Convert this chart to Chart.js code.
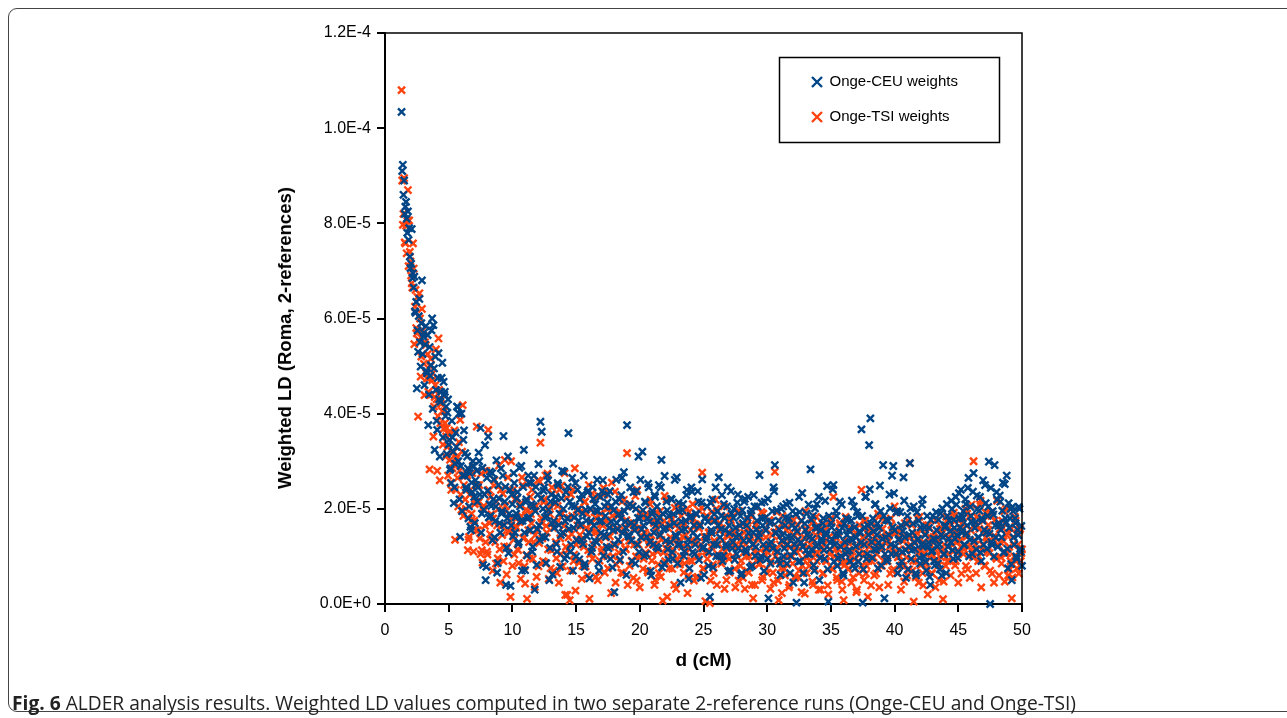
<!DOCTYPE html>
<html>
<head>
<meta charset="utf-8">
<title>ALDER weighted LD</title>
<script src="https://cdn.jsdelivr.net/npm/chart.js@4.4.1/dist/chart.umd.min.js"></script>
<style>
  html, body { margin: 0; padding: 0; background: #fff; }
  body { width: 1287px; height: 718px; position: relative; overflow: hidden; }
  #frame { position: absolute; left: 8px; top: 8px; width: 1300px; height: 704px;
           border: 1px solid #444; border-radius: 9px; box-sizing: border-box; }
  #wrap { position: absolute; left: 0; top: 0; width: 1287px; height: 690px; }
  #ytitle { position: absolute; left: 285px; top: 338px; transform: translate(-50%, -50%) rotate(-90deg);
            white-space: nowrap; font: bold 18.5px "Liberation Sans", Arial, sans-serif; color: #000; }
  #caption { position: absolute; left: 12px; top: 690px; white-space: nowrap;
             font: 19.2px/26px "Open Sans", sans-serif; color: #222; }
  #caption b { font-weight: bold; }
</style>
</head>
<body>
<div id="frame"></div>
<div id="wrap"><canvas id="ldChart" width="1287" height="690"></canvas></div>
<div id="ytitle">Weighted LD (Roma, 2-references)</div>
<div id="caption"><b>Fig. 6</b> ALDER analysis results. Weighted LD values computed in two separate 2-reference runs (Onge-CEU and Onge-TSI)</div>
<script>
// weighted LD in units of 1e-6, bins of 0.05 cM
// *Weights: bins 1.30, 1.40 ... 50.00   *WeightsMid: bins 1.35, 1.45 ... 49.95
const binStep = 0.1;

const ceuWeights = [
  103.4, 92.3, 89.0, 83.5, 81.0, 82.5, 79.0, 70.6, 78.8, 69.5,
  68.8, 61.2, 45.3, 53.0, 64.1, 49.9, 68.0, 56.2, 46.0, 58.4,
  48.5, 37.6, 54.0, 50.2, 60.0, 58.6, 32.4, 45.0, 36.6, 52.7,
  31.0, 44.6, 50.7, 46.7, 44.6, 41.5, 40.2, 33.5, 28.2, 25.4,
  35.0, 21.2, 29.5, 33.0, 41.4, 40.0, 14.1, 40.0, 27.0, 36.5,
  31.7, 24.0, 28.5, 20.5, 16.2, 25.5, 30.0, 22.5, 26.0, 28.0,
  24.5, 30.0, 37.0, 19.0, 8.2, 23.0, 5.0, 26.5, 35.2, 21.0,
  18.5, 27.5, 22.0, 14.0, 20.5, 6.6, 25.0, 17.0, 28.5, 19.5,
  35.3, 21.5, 4.0, 18.0, 10.7, 24.0, 16.5, 21.0, 27.5, 15.0,
  19.0, 23.5, 13.0, 20.5, 29.0, 17.5, 32.4, 7.1, 22.0, 18.0,
  25.5, 15.5, 21.0, 12.0, 27.0, 19.5, 8.2, 23.0, 16.5, 38.3,
  36.2, 20.0, 24.5, 14.0, 18.5, 26.0, 5.0, 21.5, 17.0, 29.5,
  16.0, 22.5, 11.0, 25.0, 19.0, 14.5, 28.0, 20.0, 9.5, 23.5,
  18.0, 35.9, 21.5, 12.5, 26.5, 16.0, 20.5, 10.0, 24.0, 17.5,
  22.0, 13.5, 19.0, 27.0, 8.5, 17.5, 23.5, 15.0, 20.0, 11.0,
  24.5, 16.5, 21.0, 13.0, 19.5, 7.0, 22.5, 17.5, 26.0, 14.5,
  18.5, 12.0, 23.0, 16.0, 9.5, 20.5, 15.5, 2.5, 21.5, 17.0,
  13.5, 22.0, 18.0, 26.5, 11.0, 19.5, 16.0, 37.6, 14.5, 21.0,
  17.0, 9.0, 23.5, 15.5, 20.0, 12.5, 31.0, 18.0, 14.0, 32.0,
  16.5, 21.5, 10.5, 18.0, 24.5, 13.0, 6.0, 19.5, 15.0, 22.5,
  12.0, 17.5, 25.0, 14.5, 30.3, 19.0, 8.5, 16.0, 21.5, 11.5,
  18.5, 13.0, 22.0, 9.5, 17.0, 14.5, 26.6, 12.5, 19.5, 4.5,
  15.5, 21.0, 11.0, 17.5, 24.0, 13.5, 7.5, 18.5, 23.6, 15.0,
  10.5, 19.0, 14.0, 21.5, 16.5, 5.5, 26.2, 12.0, 18.0, 13.5,
  20.5, 8.0, 1.5, 15.5, 22.0, 12.5, 17.5, 10.0, 19.5, 26.6,
  14.0, 18.5, 9.0, 21.0, 15.5, 12.0, 24.5, 16.5, 7.0, 19.0,
  13.0, 20.0, 16.0, 10.5, 23.0, 14.5, 18.5, 6.5, 17.0, 21.5,
  11.5, 16.5, 22.5, 13.5, 19.0, 8.0, 15.0, 20.5, 12.0, 17.5,
  14.0, 27.1, 10.0, 18.0, 12.5, 21.5, 15.5, 9.5, 1.2, 17.0,
  13.0, 19.5, 24.5, 29.2, 15.0, 11.0, 17.5, 8.5, 20.0, 14.5,
  10.0, 16.5, 21.0, 12.5, 18.0, 6.5, 14.0, 19.5, 11.0, 16.0,
  0.3, 13.5, 22.5, 9.0, 17.5, 12.0, 4.5, 15.5, 19.0, 10.5,
  14.0, 28.3, 11.5, 18.5, 7.0, 16.0, 21.0, 12.5, 5.0, 15.5,
  13.0, 18.0, 9.5, 15.0, 24.8, 0.5, 11.5, 17.0, 13.5, 25.0,
  12.5, 19.5, 8.0, 14.5, 21.5, 10.0, 16.0, 6.0, 13.0, 18.0,
  11.0, 15.5, 9.0, 17.5, 13.5, 20.5, 7.5, 14.0, 18.5, 10.5,
  15.0, 36.7, 0.3, 12.5, 22.5, 9.5, 16.5, 33.4, 39.0, 13.0,
  18.0, 11.5, 21.0, 14.5, 7.5, 16.0, 19.5, 12.0, 29.2, 1.2,
  14.0, 9.0, 17.5, 23.0, 12.5, 27.0, 29.0, 15.5, 10.5, 19.5,
  13.5, 8.0, 16.5, 11.0, 26.6, 14.0, 5.5, 18.5, 12.0, 29.6,
  9.5, 15.0, 20.5, 11.5, 6.0, 13.5, 17.5, 8.5, 12.5, 22.0,
  10.0, 14.5, 7.0, 12.0, 16.0, 4.0, 11.0, 18.5, 9.0, 13.5,
  15.5, 8.5, 12.5, 19.0, 6.0, 14.0, 10.5, 16.5, 21.0, 12.0,
  17.5, 13.0, 20.0, 9.5, 16.0, 22.5, 14.5, 11.0, 18.0, 24.0,
  15.0, 19.5, 12.5, 21.0, 16.5, 26.5, 13.5, 18.5, 10.5, 27.5,
  16.0, 11.5, 20.0, 14.0, 22.5, 9.0, 17.5, 12.5, 25.0, 15.0,
  18.5, 29.9, 0.0, 13.0, 19.5, 10.0, 16.5, 23.5, 12.0, 17.0,
  21.5, 14.0, 25.5, 11.0, 18.0, 27.0, 7.5, 16.0, 20.0, 5.0,
  19.5, 12.5, 17.0, 9.5, 14.5, 20.0, 11.0, 8.0
];

const ceuWeightsMid = [
  91.0, 86.0, 82.0, 84.5, 78.0, 76.5, 73.0, 71.5, 68.5, 66.5,
  61.5, 63.5, 57.5, 60.5, 55.0, 59.0, 52.5, 57.0, 54.5, 49.0,
  56.5, 44.0, 48.0, 57.5, 41.0, 49.5, 52.0, 38.5, 47.5, 43.0,
  42.5, 47.5, 35.0, 44.0, 39.5, 31.5, 43.0, 34.5, 28.5, 38.5,
  32.0, 24.5, 36.0, 41.5, 30.0, 22.0, 29.0, 19.5, 34.5, 27.0,
  24.5, 31.0, 18.0, 27.5, 15.5, 23.5, 29.0, 17.0, 25.0, 21.5,
  31.8, 23.0, 15.0, 28.6, 19.8, 33.4, 7.8, 23.8, 18.2, 27.8,
  20.6, 13.4, 26.2, 17.4, 30.2, 8.6, 22.2, 15.0, 19.0, 27.0,
  16.6, 24.6, 11.8, 31.0, 19.0, 3.8, 23.0, 14.2, 25.4, 18.2,
  22.2, 12.6, 28.6, 17.4, 7.0, 24.6, 15.0, 21.4, 10.2, 27.0,
  18.2, 25.4, 11.0, 20.6, 3.0, 24.6, 15.8, 29.4, 13.4, 22.2,
  14.2, 23.8, 18.2, 8.6, 27.0, 19.8, 11.8, 23.0, 6.2, 17.4,
  21.4, 12.6, 25.4, 16.6, 7.8, 22.2, 15.0, 27.8, 17.4, 10.2,
  24.6, 15.8, 11.0, 20.6, 7.0, 18.2, 25.4, 13.4, 19.8, 9.4,
  16.6, 23.0, 12.6, 7.8, 19.8, 14.2, 23.8, 5.4, 17.4, 11.8,
  22.1, 13.3, 19.7, 26.1, 8.5, 17.3, 14.9, 23.7, 10.1, 20.5,
  14.1, 21.3, 11.7, 23.7, 17.3, 7.7, 19.7, 12.5, 26.1, 15.7,
  18.9, 9.3, 22.9, 14.9, 27.7, 17.3, 6.1, 20.5, 14.1, 24.5,
  13.3, 20.5, 16.5, 8.5, 23.7, 18.1, 10.9, 26.1, 15.7, 19.7,
  10.1, 21.3, 14.1, 25.3, 17.3, 6.9, 18.9, 12.5, 22.9, 16.5,
  20.5, 11.7, 18.1, 24.5, 7.7, 15.7, 26.9, 13.3, 19.7, 9.3,
  16.5, 22.1, 10.9, 18.9, 26.1, 14.1, 8.5, 21.3, 12.5, 17.3,
  19.7, 10.1, 15.7, 22.9, 12.5, 5.3, 18.1, 24.5, 10.9, 16.5,
  12.5, 18.9, 23.7, 9.3, 16.5, 21.3, 11.7, 6.1, 18.1, 14.1,
  17.3, 10.9, 21.3, 14.9, 7.7, 18.9, 24.5, 12.5, 16.5, 10.1,
  15.7, 22.9, 10.1, 18.1, 12.5, 20.5, 6.9, 14.9, 23.7, 11.7,
  18.1, 9.3, 14.1, 21.3, 11.7, 16.5, 6.1, 19.7, 13.3, 22.1,
  10.9, 18.1, 14.9, 7.7, 19.7, 12.5, 22.9, 10.1, 15.7, 20.5,
  14.9, 9.3, 21.3, 16.5, 6.9, 18.1, 11.7, 22.1, 12.5, 8.5,
  17.3, 11.7, 23.7, 14.9, 19.7, 9.3, 15.7, 6.1, 13.3, 20.5,
  11.7, 18.1, 8.5, 14.1, 21.3, 10.1, 16.5, 4.5, 12.5, 18.9,
  15.3, 8.9, 19.3, 12.9, 23.3, 6.5, 16.9, 11.3, 14.5, 20.9,
  10.5, 17.7, 13.7, 8.1, 20.1, 12.1, 16.1, 22.5, 9.7, 13.7,
  16.9, 11.3, 21.7, 14.5, 7.3, 18.5, 12.9, 16.1, 24.1, 8.9,
  14.5, 18.5, 9.7, 15.3, 12.1, 20.9, 6.5, 16.9, 10.5, 14.5,
  17.7, 11.3, 13.7, 21.7, 8.1, 16.1, 12.1, 19.3, 8.9, 15.3,
  12.9, 18.5, 7.3, 16.1, 22.5, 10.5, 14.5, 24.1, 16.9, 9.7,
  15.3, 20.9, 11.3, 16.9, 12.9, 24.9, 8.1, 13.7, 18.5, 10.5,
  17.7, 9.7, 14.5, 20.1, 10.5, 16.1, 23.3, 12.1, 19.3, 6.5,
  13.7, 19.3, 8.9, 15.3, 21.7, 11.3, 16.9, 7.3, 14.5, 20.1,
  11.3, 16.9, 12.9, 6.5, 19.3, 13.7, 9.7, 16.1, 20.9, 12.1,
  16.1, 8.9, 18.5, 12.9, 5.7, 17.7, 11.3, 13.7, 8.1, 19.3,
  12.1, 17.7, 7.3, 14.5, 20.1, 10.5, 16.1, 6.5, 18.5, 13.7,
  15.3, 21.7, 11.3, 17.7, 13.7, 20.9, 9.7, 23.3, 16.1, 18.5,
  18.0, 12.4, 22.0, 14.8, 24.4, 10.0, 20.4, 17.2, 23.6, 13.2,
  17.2, 22.8, 14.0, 19.6, 10.8, 18.0, 26.0, 15.6, 21.2, 11.6,
  20.4, 14.8, 24.4, 12.4, 18.8, 29.2, 14.0, 22.0, 16.4, 22.8,
  15.6, 19.6, 10.8, 25.2, 17.2, 11.6, 21.2, 18.0, 8.4, 20.4,
  14.0, 18.0, 10.0, 15.6, 20.4, 11.6, 16.4
];

const tsiWeights = [
  108.0, 79.7, 89.5, 75.8, 73.7, 87.0, 80.6, 72.0, 67.4, 75.8,
  54.6, 66.0, 56.9, 39.4, 65.3, 47.8, 62.0, 56.5, 43.9, 54.4,
  47.4, 44.6, 28.3, 51.5, 47.0, 35.2, 43.5, 53.5, 28.0, 55.8,
  26.0, 42.0, 40.5, 36.8, 38.0, 35.2, 33.0, 36.0, 30.3, 24.0,
  28.5, 32.0, 13.5, 30.6, 26.5, 34.0, 38.7, 19.8, 41.8, 25.0,
  22.0, 27.5, 11.3, 14.1, 24.0, 19.0, 29.0, 17.5, 21.5, 37.3,
  15.5, 25.0, 10.5, 11.3, 20.0, 28.0, 13.0, 11.0, 36.6, 17.0,
  22.5, 13.5, 18.0, 26.0, 8.5, 16.5, 20.0, 11.5, 24.0, 14.5,
  9.0, 30.3, 19.5, 12.0, 15.0, 17.5, 30.0, 8.0, 13.5, 22.0,
  16.0, 11.5, 8.6, 21.0, 18.5, 25.0, 14.0, 4.3, 10.3, 19.5,
  13.0, 22.5, 17.0, 9.5, 20.0, 14.5, 5.7, 26.0, 12.8, 33.9,
  18.0, 9.0, 22.0, 27.0, 15.0, 11.5, 20.5, 7.5, 24.5, 16.0,
  21.0, 13.0, 6.5, 17.5, 24.0, 10.5, 19.0, 15.0, 27.5, 12.0,
  1.9, 14.0, 0.8, 23.0, 18.5, 9.0, 28.5, 12.5, 16.5, 20.0,
  14.5, 19.5, 8.0, 12.0, 21.5, 16.0, 6.0, 25.0, 10.5, 17.0,
  9.5, 22.0, 15.0, 18.0, 5.0, 13.5, 19.0, 11.0, 16.5, 23.0,
  14.0, 20.0, 7.5, 17.0, 12.0, 25.5, 10.0, 15.5, 4.5, 19.0,
  18.5, 9.0, 13.0, 21.5, 6.5, 15.5, 11.5, 31.7, 17.0, 8.0,
  13.5, 20.5, 5.5, 16.0, 10.0, 24.0, 12.5, 3.5, 18.5, 14.0,
  9.5, 15.0, 19.0, 7.0, 12.5, 21.0, 14.5, 10.5, 17.0, 5.0,
  16.0, 11.0, 6.5, 19.5, 13.5, 0.7, 17.5, 9.0, 22.0, 12.5,
  7.5, 14.0, 18.0, 11.5, 4.0, 16.5, 9.5, 20.5, 13.0, 10.0,
  12.0, 17.0, 8.5, 14.5, 20.0, 6.0, 11.5, 15.5, 9.0, 18.0,
  13.0, 5.5, 16.5, 10.0, 19.5, 12.5, 27.6, 7.5, 14.0, 11.0,
  9.5, 15.0, 0.2, 12.0, 17.5, 6.5, 13.0, 20.0, 10.5, 15.5,
  17.0, 8.5, 13.5, 20.5, 11.0, 5.0, 15.0, 9.5, 18.0, 12.5,
  10.0, 14.5, 3.5, 16.0, 12.0, 19.5, 8.0, 13.5, 5.5, 15.0,
  12.5, 7.0, 17.5, 10.0, 14.0, 4.0, 1.2, 11.0, 16.5, 9.0,
  13.5, 8.5, 15.0, 5.0, 19.0, 10.5, 14.0, 6.5, 12.0, 17.5,
  9.0, 14.5, 4.5, 27.8, 11.5, 16.0, 0.8, 12.5, 7.5, 18.5,
  13.0, 6.0, 15.5, 10.0, 3.5, 12.0, 17.0, 8.5, 14.5, 5.5,
  11.0, 16.5, 7.0, 13.0, 2.5, 9.5, 14.0, 19.5, 6.5, 12.0,
  8.0, 12.5, 17.0, 4.0, 10.5, 14.5, 9.0, 16.5, 11.5, 3.0,
  12.0, 6.5, 15.5, 9.0, 13.5, 2.0, 10.5, 18.0, 7.5, 22.5,
  10.0, 14.0, 5.0, 11.5, 17.0, 8.5, 3.0, 0.8, 12.5, 9.0,
  13.0, 7.5, 16.0, 4.5, 11.0, 14.5, 9.5, 2.5, 12.0, 6.5,
  10.5, 24.0, 14.0, 5.0, 17.5, 8.0, 1.5, 12.0, 15.5, 9.0,
  13.5, 6.0, 16.5, 10.5, 19.0, 3.5, 12.0, 8.0, 14.0, 17.5,
  9.5, 14.5, 4.0, 12.0, 18.0, 7.0, 15.0, 20.5, 11.0, 6.5,
  15.0, 10.0, 3.0, 13.5, 8.0, 17.0, 11.5, 6.0, 14.0, 29.6,
  12.0, 7.0, 0.5, 14.5, 9.0, 18.0, 4.5, 11.0, 15.5, 6.5,
  13.0, 8.5, 16.5, 2.0, 11.5, 14.0, 6.5, 10.0, 15.0, 3.5,
  9.5, 13.5, 5.0, 11.0, 16.0, 1.0, 12.5, 8.0, 17.5, 10.5,
  14.0, 6.0, 15.5, 11.0, 18.5, 9.0, 13.0, 4.5, 16.0, 12.0,
  17.0, 10.5, 14.5, 8.0, 19.0, 12.0, 5.5, 15.5, 11.0, 30.0,
  13.5, 6.5, 16.5, 10.0, 21.0, 3.5, 12.5, 17.5, 8.0, 14.0,
  11.0, 15.5, 7.0, 18.5, 12.5, 4.5, 14.0, 9.5, 17.0, 6.0,
  13.0, 8.5, 16.0, 19.5, 10.5, 14.5, 6.0, 12.0, 9.0, 1.2,
  14.0, 10.0, 17.5, 7.5, 12.5, 15.5, 9.0, 11.5
];

const tsiWeightsMid = [
  89.0, 82.0, 76.0, 79.5, 80.5, 71.0, 74.0, 69.0, 66.5, 70.5,
  62.5, 58.0, 64.5, 55.5, 60.0, 52.0, 57.5, 50.5, 55.0, 48.5,
  52.5, 47.5, 50.0, 44.0, 48.5, 41.5, 46.0, 43.0, 39.5, 45.0,
  38.0, 43.0, 33.5, 40.5, 31.0, 37.0, 27.0, 35.5, 25.5, 32.0,
  29.5, 36.5, 24.0, 31.0, 20.5, 28.0, 23.0, 32.0, 18.5, 27.0,
  20.0, 27.0, 13.5, 23.0, 17.5, 27.5, 11.0, 21.0, 15.5, 25.0,
  21.4, 13.8, 27.4, 8.7, 20.6, 16.4, 28.0, 10.4, 24.0, 14.7,
  18.9, 7.0, 24.9, 13.0, 21.5, 9.6, 29.1, 4.5, 16.4, 23.2,
  12.1, 20.6, 6.2, 26.6, 15.5, 1.5, 18.1, 24.0, 10.4, 16.4,
  22.3, 11.3, 17.2, 5.3, 26.6, 13.8, 7.9, 19.8, 1.1, 15.5,
  9.6, 18.9, 24.0, 13.0, 3.6, 20.6, 15.5, 7.9, 25.7, 17.2,
  13.8, 21.4, 8.7, 16.4, 27.4, 5.3, 18.9, 11.3, 23.2, 7.0,
  17.2, 9.6, 20.6, 4.5, 13.8, 24.9, 7.9, 16.4, 1.9, 22.3,
  11.3, 18.1, 7.0, 14.7, 24.0, 10.4, 2.8, 19.8, 13.0, 8.7,
  16.4, 5.3, 13.8, 21.4, 7.9, 18.9, 11.3, 1.1, 15.5, 23.2,
  12.5, 19.3, 5.7, 15.1, 22.7, 9.1, 16.8, 11.7, 24.4, 6.6,
  17.6, 10.0, 20.2, 14.2, 2.3, 18.5, 12.5, 23.6, 8.3, 15.9,
  10.8, 19.3, 6.6, 15.1, 21.9, 11.7, 17.6, 4.0, 13.3, 21.0,
  9.1, 16.8, 12.5, 22.7, 4.9, 15.9, 10.0, 19.3, 14.2, 7.4,
  15.1, 10.8, 18.5, 6.6, 13.3, 21.9, 9.1, 17.6, 4.0, 12.5,
  19.3, 8.3, 14.2, 5.7, 16.8, 10.8, 22.7, 11.7, 1.5, 15.9,
  10.0, 17.6, 7.4, 13.3, 20.2, 3.2, 12.5, 15.9, 8.3, 18.5,
  14.2, 6.6, 16.8, 10.8, 2.3, 19.3, 9.1, 13.3, 21.0, 4.9,
  16.8, 10.0, 5.7, 15.9, 11.7, 20.2, 7.4, 14.2, 0.6, 18.5,
  10.8, 15.1, 4.9, 19.3, 8.3, 13.3, 21.9, 4.0, 12.5, 16.8,
  9.1, 15.9, 11.7, 3.2, 18.5, 10.0, 14.2, 6.6, 17.6, 12.5,
  15.1, 7.4, 12.5, 19.3, 4.9, 13.3, 9.1, 16.8, 10.8, 3.2,
  10.0, 15.9, 6.6, 13.3, 18.5, 8.3, 12.5, 4.0, 16.8, 10.8,
  8.3, 14.2, 19.3, 5.7, 11.7, 15.9, 7.4, 10.8, 17.6, 3.2,
  12.5, 6.6, 15.1, 10.0, 19.3, 4.9, 14.2, 9.1, 2.3, 16.8,
  7.4, 12.5, 8.3, 15.9, 4.0, 13.3, 10.0, 17.6, 5.7, 11.7,
  14.9, 5.6, 11.5, 17.5, 8.1, 12.4, 2.2, 15.8, 9.8, 14.1,
  9.0, 15.8, 4.7, 13.2, 7.3, 18.3, 10.7, 3.0, 14.9, 9.8,
  6.4, 12.4, 16.6, 9.0, 3.9, 14.1, 11.5, 17.5, 7.3, 13.2,
  11.5, 5.6, 14.9, 9.8, 16.6, 4.7, 12.4, 8.1, 18.3, 10.7,
  7.3, 13.2, 9.8, 15.8, 5.6, 11.5, 14.1, 3.0, 9.0, 16.6,
  12.4, 8.1, 17.5, 10.7, 6.4, 14.9, 9.0, 13.2, 3.9, 15.8,
  9.8, 14.1, 6.4, 12.4, 18.3, 8.1, 11.5, 15.8, 9.0, 13.2,
  14.1, 9.0, 13.2, 6.4, 16.6, 10.7, 7.3, 14.9, 19.2, 9.8,
  11.5, 15.8, 8.1, 13.2, 4.7, 14.1, 9.8, 17.5, 7.3, 12.4,
  16.6, 9.0, 13.2, 5.6, 14.9, 10.7, 18.3, 8.1, 12.4, 3.9,
  10.7, 14.9, 7.3, 16.6, 9.8, 12.4, 6.4, 14.1, 11.5, 17.5,
  13.2, 8.1, 15.8, 9.8, 14.9, 4.7, 11.5, 18.3, 9.0, 14.1,
  9.0, 16.6, 12.4, 19.2, 8.1, 14.9, 10.7, 17.5, 13.2, 6.4,
  15.8, 11.5, 20.0, 14.1, 7.3, 18.3, 12.4, 20.9, 9.8, 16.6,
  12.4, 18.3, 9.0, 15.8, 21.7, 11.5, 14.9, 8.1, 19.2, 13.2,
  16.6, 10.7, 19.2, 6.4, 14.1, 17.5, 9.8, 21.7, 12.4, 15.8,
  9.8, 17.5, 13.2, 4.7, 20.0, 10.7, 14.9, 7.3, 15.8, 5.6,
  12.4, 18.3, 9.0, 14.9, 6.4, 15.8, 10.7
];

const seriesNames = ["Onge-CEU weights", "Onge-TSI weights"];
const seriesColors = ["#004586", "#ff420e"];
const xTicks = [0, 5, 10, 15, 20, 25, 30, 35, 40, 45, 50];
const yTicks = [0, 2e-5, 4e-5, 6e-5, 8e-5, 1e-4, 1.2e-4];

function toPoints(vals, start){
  return vals.map((v, i) => ({
    x: +(start + binStep * i).toFixed(2),
    y: v * 1e-6
  }));
}

function expLabel(v){
  return Number(v).toExponential(1).toUpperCase();
}

// box around the plot and around the legend
const framePlugin = {
  id: "frames",
  afterLayout(chart){
    const lg = chart.legend;
    if(!lg) return;
    lg.left = 792; lg.right = 1000; lg.width = 208;
    lg.top = 54.5; lg.bottom = 200; lg.height = 145.5;
  },
  afterDraw(chart){
    const {ctx, chartArea: a} = chart;
    ctx.save();
    ctx.strokeStyle = "#000";
    ctx.lineWidth = 1.5;
    ctx.beginPath();
    ctx.moveTo(a.left, a.top);
    ctx.lineTo(a.right, a.top);
    ctx.lineTo(a.right, a.bottom);
    ctx.stroke();
    ctx.strokeRect(779.5, 57.5, 220, 85);
    ctx.restore();
  }
};

const seriesData = [
  toPoints(ceuWeights, 1.3).concat(toPoints(ceuWeightsMid, 1.35)),
  toPoints(tsiWeights, 1.3).concat(toPoints(tsiWeightsMid, 1.35))
];

const datasets = seriesData.map((pts, i) => ({
  label: seriesNames[i],
  data: pts,
  pointStyle: "crossRot",
  pointRadius: 5,
  pointHoverRadius: 5,
  borderWidth: 2.4,
  borderColor: seriesColors[i],
  backgroundColor: seriesColors[i],
  showLine: false,
  clip: false
}));

new Chart(document.getElementById("ldChart"), {
  type: "scatter",
  data: { datasets },
  plugins: [framePlugin],
  options: {
    responsive: false,
    animation: false,
    devicePixelRatio: 1,
    layout: { padding: { left: 270, right: 265, top: 33, bottom: 10 } },
    plugins: {
      tooltip: { enabled: false },
      legend: {
        position: "chartArea",
        align: "start",
        labels: {
          usePointStyle: true,
          boxWidth: 10,
          boxHeight: 10,
          padding: 20,
          color: "#000",
          font: { family: "'Liberation Sans', Arial, sans-serif", size: 15 }
        }
      }
    },
    scales: {
      x: {
        type: "linear",
        min: 0,
        max: 50,
        afterFit(scale){ scale.height = 76; },
        afterBuildTicks(scale){ scale.ticks = xTicks.map(v => ({ value: v })); },
        border: { display: true, color: "#000", width: 2 },
        grid: { display: true, drawOnChartArea: false, drawTicks: true, tickLength: 8, color: "#000", lineWidth: 2 },
        ticks: {
          padding: 9,
          maxRotation: 0,
          color: "#000",
          font: { family: "'Liberation Sans', Arial, sans-serif", size: 16 }
        },
        title: {
          display: true,
          text: "d (cM)",
          color: "#000",
          padding: { top: 0, bottom: 8 },
          font: { family: "'Liberation Sans', Arial, sans-serif", size: 19, weight: "bold" }
        }
      },
      y: {
        type: "linear",
        min: 0,
        max: 1.2e-4,
        afterFit(scale){ scale.width = 115; },
        afterBuildTicks(scale){ scale.ticks = yTicks.map(v => ({ value: v })); },
        border: { display: true, color: "#000", width: 2 },
        grid: { display: true, drawOnChartArea: false, drawTicks: true, tickLength: 8, color: "#000", lineWidth: 2 },
        ticks: {
          padding: 6,
          color: "#000",
          callback: v => expLabel(v),
          font: { family: "'Liberation Sans', Arial, sans-serif", size: 16 }
        }
      }
    }
  }
});
</script>
</body>
</html>
